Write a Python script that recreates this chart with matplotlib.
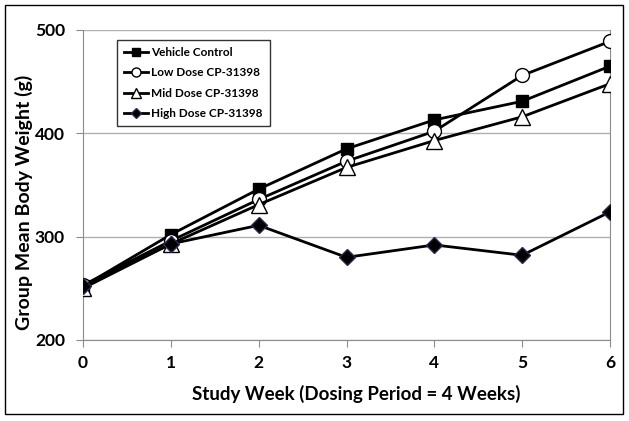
import matplotlib.pyplot as plt
from matplotlib.patches import Rectangle

plt.rcParams['font.family'] = ['Lato', 'DejaVu Sans']
plt.rcParams['font.weight'] = 'bold'

weeks = [0, 1, 2, 3, 4, 5, 6]
vehicle = [252, 302, 346, 385, 413, 431, 465]
low_dose = [253, 296, 336, 373, 402, 456, 489]
mid_dose = [250, 293, 331, 367, 393, 416, 448]
high_dose = [252, 293, 311, 280, 292, 282, 324]

fig = plt.figure(figsize=(6.29, 4.21), dpi=100)
ax = fig.add_axes([83 / 629, 81 / 421, 527 / 629, 310 / 421])

ax.plot(weeks, vehicle, color='black', lw=2, marker='s', ms=9,
        mfc='black', mec='black', label='Vehicle Control', zorder=3)
ax.plot(weeks, low_dose, color='black', lw=2, marker='o', ms=10,
        mfc='white', mec='black', mew=1, label='Low Dose CP-31398', zorder=3)
ax.plot(weeks, mid_dose, color='black', lw=2, marker='^', ms=11,
        mfc='white', mec='black', mew=1, label='Mid Dose CP-31398', zorder=3)
ax.plot(weeks, high_dose, color='black', lw=2, marker='D', ms=8,
        mfc='black', mec='#2a2a50', mew=1, label='High Dose CP-31398', zorder=3)

ax.set_xlim(0, 6)
ax.set_ylim(200, 500)
ax.set_xticks(weeks)
ax.set_yticks([200, 300, 400, 500])
ax.grid(axis='y', color='#b0b0b0', lw=1)
ax.set_axisbelow(True)
for side in ['left', 'bottom', 'right']:
    ax.spines[side].set_color('#8c8c8c')
ax.spines['top'].set_visible(False)
ax.tick_params(axis='both', colors='#8c8c8c', labelcolor='black',
               labelsize=12.5, length=5, direction='out')
ax.tick_params(axis='x', pad=6)
ax.tick_params(axis='y', pad=8)
for lab in ax.get_xticklabels() + ax.get_yticklabels():
    lab.set_fontweight('bold')

ax.set_xlabel('Study Week (Dosing Period = 4 Weeks)', fontsize=13.5,
              fontweight='bold', labelpad=12)
ax.xaxis.set_label_coords(0.518, -0.145)
ax.set_ylabel('Group Mean Body Weight (g)', fontsize=14, fontweight='bold')
ax.yaxis.set_label_coords(-0.095, 0.445)

leg = ax.legend(loc='upper left', bbox_to_anchor=(0.0645, 0.968),
                borderaxespad=0, fontsize=8.5, frameon=True, fancybox=False,
                edgecolor='black', handlelength=2.0, handletextpad=0.3,
                labelspacing=0.8, borderpad=0.6, markerscale=0.65)
leg.get_frame().set_linewidth(1)
for t in leg.get_texts():
    t.set_fontweight('bold')

fig.patches.append(Rectangle((5 / 629, 7 / 421), 618 / 629, 409 / 421,
                             transform=fig.transFigure, fill=False,
                             edgecolor='black', lw=1))

fig.savefig('out.png', dpi=100)
